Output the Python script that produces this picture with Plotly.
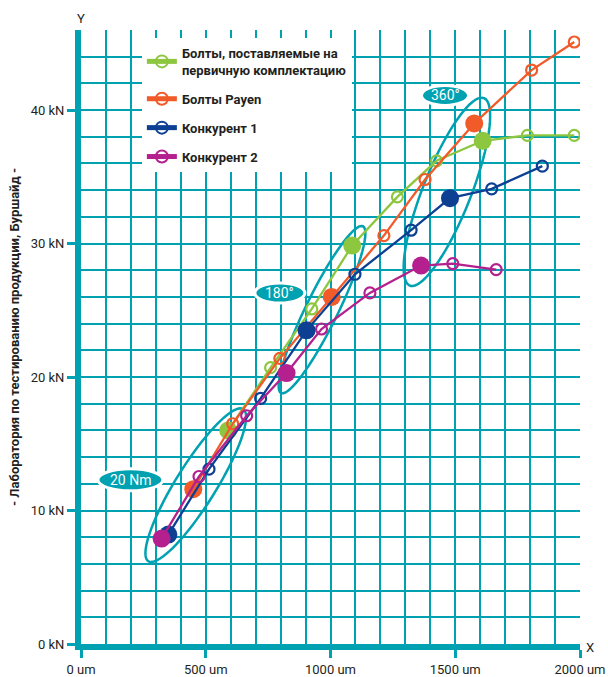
import numpy as np
import plotly.graph_objects as go

# ---------------- data ----------------
series_names = [
    "Болты, поставляемые на<br>первичную комплектацию",
    "Болты Payen",
    "Конкурент 1",
    "Конкурент 2",
]
green_x = [590, 760, 925, 1087, 1268, 1425, 1610, 1789, 1977]
green_y = [16.0, 20.7, 25.1, 29.85, 33.5, 36.2, 37.7, 38.1, 38.1]
orange_x = [450, 608, 797, 1005, 1214, 1379, 1576, 1806, 1977]
orange_y = [11.6, 16.5, 21.4, 26.0, 30.6, 34.8, 39.0, 43.0, 45.1]
blue_x = [350, 513, 720, 904, 1098, 1323, 1479, 1646, 1849]
blue_y = [8.2, 13.1, 18.4, 23.5, 27.7, 31.0, 33.4, 34.1, 35.8]
magenta_x = [323, 473, 664, 824, 964, 1158, 1363, 1490, 1664]
magenta_y = [7.9, 12.55, 17.1, 20.3, 23.6, 26.3, 28.35, 28.5, 28.05]
stage_index = [0, 3, 6]          # filled points: 20 Nm, 180°, 360°
stage_labels = ["20 Nm", "180°", "360°"]
x_tickvals = [0, 500, 1000, 1500, 2000]
x_ticktext = ["0 um", "500 um", "1000 um", "1500 um", "2000 um"]
y_tickvals = [0, 10, 20, 30, 40]
y_ticktext = ["0 kN", "10 kN", "20 kN", "30 kN", "40 kN"]

# ---------------- style ----------------
W, H = 608, 677
ML, MR, MT, MB = 81, 28, 30, 33
X_RANGE = [0, 2000]
Y_RANGE = [0, 46]
TEAL = "#00a1b0"
DARK = "#231f20"
colors = ["#8dc63f", "#f15a29", "#0d3f93", "#b4218e"]
NARROW = "Roboto"
GW = 2.2

PW, PH = W - ML - MR, H - MT - MB
sx = PW / (X_RANGE[1] - X_RANGE[0])
sy = PH / (Y_RANGE[1] - Y_RANGE[0])


def ellipse_path(a_pt, b_pt, half_w, n=80):
    # endpoints in data units, half width in pixels; build in pixel space
    ax, ay = a_pt[0] * sx, -a_pt[1] * sy
    bx, by = b_pt[0] * sx, -b_pt[1] * sy
    cx, cy = (ax + bx) / 2, (ay + by) / 2
    dx, dy = bx - ax, by - ay
    L = np.hypot(dx, dy)
    ux, uy = dx / L, dy / L
    vx, vy = -uy, ux
    a = L / 2
    t = np.linspace(0, 2 * np.pi, n)
    px = cx + a * np.cos(t) * ux + half_w * np.sin(t) * vx
    py = cy + a * np.cos(t) * uy + half_w * np.sin(t) * vy
    xs = px / sx
    ys = -py / sy
    d = "M " + " L ".join(f"{x:.2f},{y:.3f}" for x, y in zip(xs, ys)) + " Z"
    return d


fig = go.Figure()
all_x = [green_x, orange_x, blue_x, magenta_x]
all_y = [green_y, orange_y, blue_y, magenta_y]
for i, (xs, ys) in enumerate(zip(all_x, all_y)):
    c = colors[i]
    fig.add_trace(go.Scatter(
        x=xs, y=ys, mode="lines+markers", name=series_names[i],
        legendgroup=f"g{i}",
        line=dict(color=c, width=2.3),
        marker=dict(symbol="circle-open", size=11, color=c, line=dict(width=2.2, color=c)),
        hoverinfo="skip",
    ))
    fig.add_trace(go.Scatter(
        x=[xs[k] for k in stage_index], y=[ys[k] for k in stage_index],
        mode="markers", showlegend=False, legendgroup=f"g{i}",
        marker=dict(symbol="circle", size=18, color=c, line=dict(width=0)),
        hoverinfo="skip",
    ))

# stage ellipses (decoration): endpoints in data units, half width in px
ellipses = [
    ((270, 6.2), (650, 17.6), 20),
    ((802, 18.8), (1130, 31.3), 16),
    ((1318, 26.85), (1615, 40.9), 24),
]
shapes = []
for a_pt, b_pt, hw in ellipses:
    shapes.append(dict(type="path", path=ellipse_path(a_pt, b_pt, hw), xref="x", yref="y",
                       line=dict(color=TEAL, width=2.5), fillcolor="rgba(0,0,0,0)", layer="between"))

# stage label pills
pill_pos = [(198, 12.3, 65, 22), (797, 26.3, 50, 20), (1459, 41.1, 47, 20)]
annotations = []
for (cx, cy, w, h), lab in zip(pill_pos, stage_labels):
    hw, hh = w / 2 / sx, h / 2 / sy
    shapes.append(dict(type="circle", xref="x", yref="y", x0=cx - hw, x1=cx + hw,
                       y0=cy - hh, y1=cy + hh, fillcolor=TEAL,
                       line=dict(color="white", width=3), layer="above"))
    annotations.append(dict(x=cx, y=cy, xref="x", yref="y", text=lab, showarrow=False,
                            font=dict(family="Roboto", size=14, color="white")))

annotations.append(dict(x=0, y=1, xref="paper", yref="paper", text="Y", showarrow=False,
                        xanchor="center", yanchor="bottom", yshift=2,
                        font=dict(family="Roboto", size=13, color=DARK)))
annotations.append(dict(x=1, y=0, xref="paper", yref="paper", text="X", showarrow=False,
                        xanchor="left", yanchor="middle", xshift=4, yshift=-3,
                        font=dict(family="Roboto", size=13, color=DARK)))

fig.update_layout(
    width=W, height=H,
    margin=dict(l=ML, r=MR, t=MT, b=MB, autoexpand=False),
    paper_bgcolor="white", plot_bgcolor="white",
    showlegend=True,
    legend=dict(x=0.122, y=0.987, xanchor="left", yanchor="top", bgcolor="white",
                font=dict(family=NARROW, size=13, color=DARK, weight="bold"),
                tracegroupgap=9, itemsizing="constant"),
    shapes=shapes, annotations=annotations,
    xaxis=dict(range=X_RANGE, showgrid=True, gridcolor=TEAL, gridwidth=GW, automargin=False,
               zeroline=False, showline=True, linecolor=TEAL, linewidth=6, mirror=False,
               tickmode="array", tickvals=x_tickvals, ticktext=x_ticktext,
               ticks="outside", ticklen=8, tickwidth=2.5, tickcolor=TEAL,
               tickfont=dict(family="Roboto", size=13, color=DARK), fixedrange=True),
    yaxis=dict(range=Y_RANGE, showgrid=True, gridcolor=TEAL, gridwidth=GW, automargin=False,
               zeroline=False, showline=True, linecolor=TEAL, linewidth=6,
               tickmode="array", tickvals=y_tickvals, ticktext=y_ticktext,
               ticks="outside", ticklen=8, tickwidth=2.5, tickcolor=TEAL,
               tickfont=dict(family="Roboto", size=13, color=DARK),
               title=dict(text="- Лаборатория по тестированию продукции, Буршайд -",
                          font=dict(family=NARROW, size=13, color=DARK, weight="bold"),
                          standoff=10), fixedrange=True),
)

# grid lines every 100 um / 2 kN (array tick mode needs minor grid)
fig.update_xaxes(minor=dict(dtick=100, tick0=0, showgrid=True, gridcolor=TEAL, gridwidth=GW, ticks=""))
fig.update_yaxes(minor=dict(dtick=2, tick0=0, showgrid=True, gridcolor=TEAL, gridwidth=GW, ticks=""))

fig.write_html("out.html", config={"displayModeBar": False},
               post_script="document.body.style.margin='0';document.body.style.overflow='hidden';")
